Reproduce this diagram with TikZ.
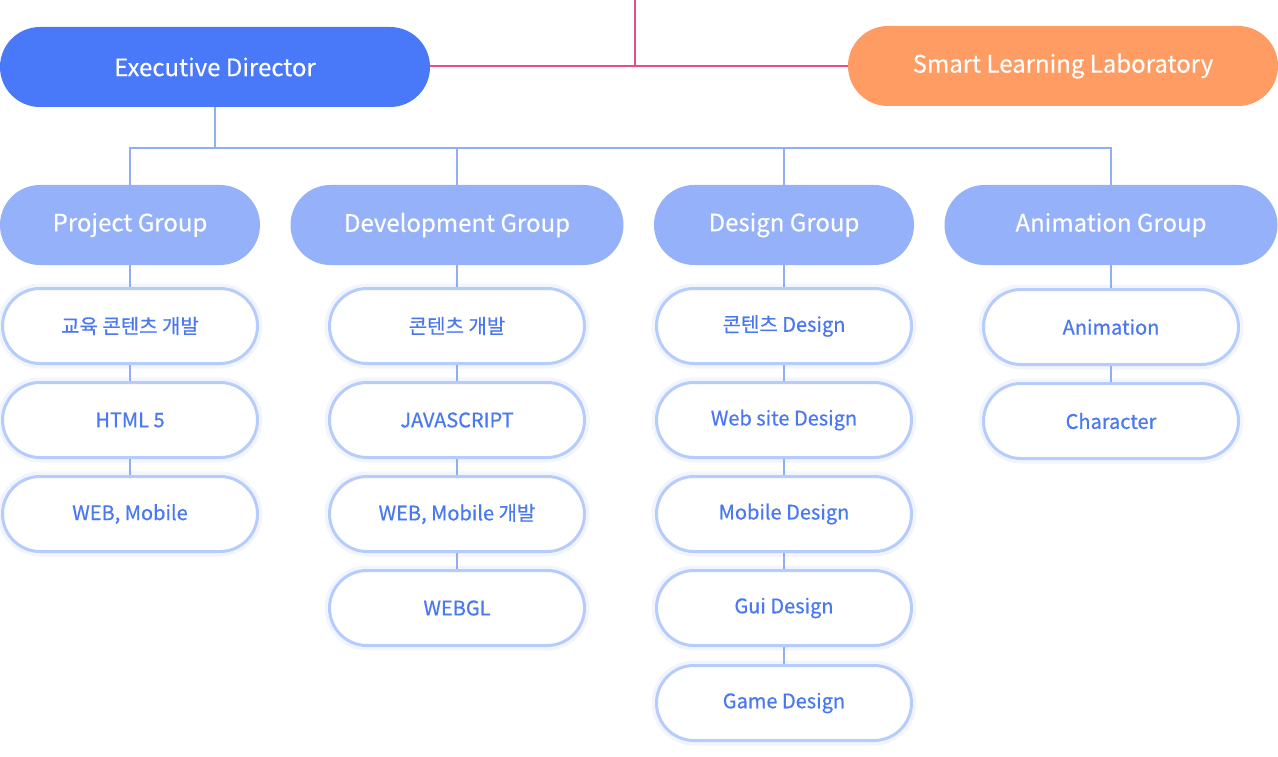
\documentclass[tikz,border=0pt]{standalone}
\usepackage{fontspec}
\setmainfont{Noto Sans CJK KR}
\newfontfamily\medfont{Noto Sans CJK KR}[FakeBold=0.6]
\newfontfamily\grpfont{Noto Sans CJK KR}[FakeBold=0.3]
\definecolor{edblue}{HTML}{4979F8}
\definecolor{sllorange}{HTML}{FF9C63}
\definecolor{grpblue}{HTML}{94B1F9}
\definecolor{itemborder}{HTML}{B6CCFD}
\definecolor{itemtext}{HTML}{4A78F0}
\definecolor{linkblue}{HTML}{90AEF7}
\definecolor{pinkline}{HTML}{E94B8C}
\definecolor{glow}{HTML}{F2F5FE}
\begin{document}
\begin{tikzpicture}[x=1pt,y=-1pt,
  topbox/.style={rectangle, rounded corners=40pt, minimum width=430pt, minimum height=80pt,
    inner sep=0pt, text=white, font=\grpfont\fontsize{24}{28}\selectfont},
  grpbox/.style={rectangle, rounded corners=40pt, minimum height=80pt, inner sep=0pt,
    fill=grpblue, text=white, font=\grpfont\fontsize{24}{28}\selectfont},
  itembox/.style={rectangle, rounded corners=37.5pt, minimum width=255pt, minimum height=75pt,
    inner sep=0pt, draw=itemborder, line width=3pt, fill=white, text=itemtext,
    font=\medfont\fontsize{20}{24}\selectfont,
    preaction={draw=glow, line width=10pt}},
  link/.style={draw=linkblue, line width=2pt},
  pink/.style={draw=pinkline, line width=1.2pt}]
\useasboundingbox (0,0) rectangle (1278,757);
% top nodes
\node[topbox, fill=edblue] (ed) at (215,67) {Executive Director};
\node[topbox, fill=sllorange] (sll) at (1063,66) {Smart Learning Laboratory};
\coordinate (topend) at (635,0);
\draw[pink] (ed.east |- sll.west) -- (sll.west);
\draw[pink] (topend) -- (topend |- sll.west);
% groups
\node[grpbox, minimum width=260pt] (pg) at (130,225) {Project Group};
\node[grpbox, minimum width=333pt] (dg) at (457,225) {Development Group};
\node[grpbox, minimum width=260pt] (sg) at (784,225) {Design Group};
\node[grpbox, minimum width=333pt] (ag) at (1111,225) {Animation Group};
\coordinate (bus) at (215,148);
\draw[link] (ed.south) -- (bus);
\draw[link] (pg.north) -- (pg.north |- bus) -- (ag.north |- bus) -- (ag.north);
\draw[link] (dg.north) -- (dg.north |- bus);
\draw[link] (sg.north) -- (sg.north |- bus);
% items column 1
\node[itembox] (p1) at (130,326) {교육 콘텐츠 개발};
\node[itembox] (p2) at (130,420) {HTML 5};
\node[itembox] (p3) at (130,514) {WEB, Mobile};
% column 2
\node[itembox] (d1) at (457,326) {콘텐츠 개발};
\node[itembox] (d2) at (457,420) {JAVASCRIPT};
\node[itembox] (d3) at (457,514) {WEB, Mobile 개발};
\node[itembox] (d4) at (457,608) {WEBGL};
% column 3
\node[itembox] (s1) at (784,326) {콘텐츠 Design};
\node[itembox] (s2) at (784,420) {Web site Design};
\node[itembox] (s3) at (784,514) {Mobile Design};
\node[itembox] (s4) at (784,608) {Gui Design};
\node[itembox] (s5) at (784,703) {Game Design};
% column 4
\node[itembox] (a1) at (1111,327) {Animation};
\node[itembox] (a2) at (1111,421) {Character};
% item connectors
\draw[link] (pg.south) -- (p1.north);
\draw[link] (p1.south) -- (p2.north);
\draw[link] (p2.south) -- (p3.north);
\draw[link] (dg.south) -- (d1.north);
\draw[link] (d1.south) -- (d2.north);
\draw[link] (d2.south) -- (d3.north);
\draw[link] (d3.south) -- (d4.north);
\draw[link] (sg.south) -- (s1.north);
\draw[link] (s1.south) -- (s2.north);
\draw[link] (s2.south) -- (s3.north);
\draw[link] (s3.south) -- (s4.north);
\draw[link] (s4.south) -- (s5.north);
\draw[link] (ag.south) -- (a1.north);
\draw[link] (a1.south) -- (a2.north);
\end{tikzpicture}
\end{document}
